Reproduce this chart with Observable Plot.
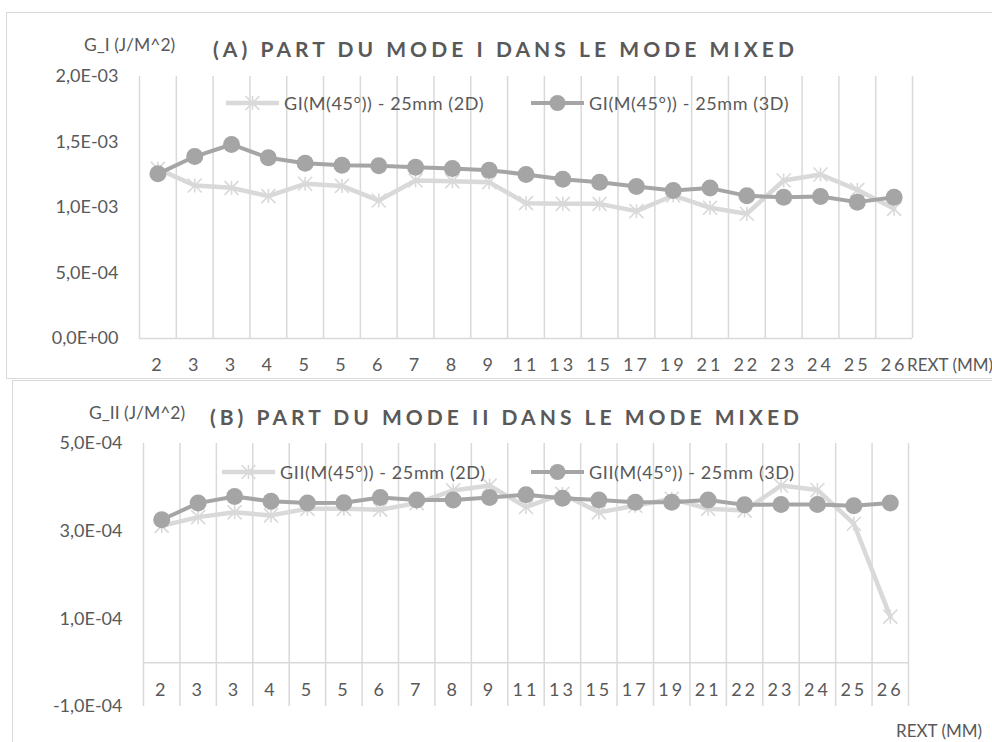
<!DOCTYPE html>
<html>
<head>
<meta charset="utf-8">
<script src="https://cdn.jsdelivr.net/npm/d3@7"></script>
<script src="https://cdn.jsdelivr.net/npm/@observablehq/plot@0.6"></script>
<style>
  html, body { margin: 0; padding: 0; background: #fff; }
  #root { position: relative; width: 992px; height: 742px; overflow: hidden; background: #fff;
          font-family: Lato, "Open Sans", sans-serif; color: #595959; }
  .abs { position: absolute; white-space: nowrap; }
  .box { position: absolute; border: 1.5px solid #d9d9d9; box-sizing: border-box; }
  .title { font-weight: bold; font-size: 21px; }
  .ylab { font-size: 17.5px; }
  .xname { font-size: 17px; }
  .leg { font-size: 18px; display: flex; align-items: center; }
  .leg span { letter-spacing: 0.6px; }
  .leg svg { margin-right: 5px; }
  g[aria-label="x-axis tick label"] text, .xlab text { letter-spacing: 3px; }
</style>
</head>
<body>
<div id="root"></div>
<script>
// ---------- data ----------
const categories = ["2","3","3","4","5","5","6","7","8","9","11","13","15","17","19","21","22","23","24","25","26"];
const gI_2D  = [1.295e-3,1.168e-3,1.150e-3,1.087e-3,1.181e-3,1.165e-3,1.053e-3,1.206e-3,1.201e-3,1.193e-3,1.033e-3,1.028e-3,1.028e-3,0.972e-3,1.092e-3,0.998e-3,0.952e-3,1.206e-3,1.252e-3,1.135e-3,0.990e-3];
const gI_3D  = [1.257e-3,1.389e-3,1.481e-3,1.379e-3,1.338e-3,1.323e-3,1.318e-3,1.308e-3,1.298e-3,1.285e-3,1.252e-3,1.216e-3,1.193e-3,1.160e-3,1.130e-3,1.148e-3,1.089e-3,1.079e-3,1.084e-3,1.041e-3,1.079e-3];
const gII_2D = [3.12e-4,3.32e-4,3.43e-4,3.36e-4,3.51e-4,3.51e-4,3.49e-4,3.64e-4,3.93e-4,4.04e-4,3.55e-4,3.85e-4,3.43e-4,3.58e-4,3.74e-4,3.51e-4,3.47e-4,4.04e-4,3.94e-4,3.17e-4,1.05e-4];
const gII_3D = [3.26e-4,3.64e-4,3.79e-4,3.68e-4,3.64e-4,3.65e-4,3.77e-4,3.71e-4,3.71e-4,3.77e-4,3.83e-4,3.75e-4,3.71e-4,3.66e-4,3.66e-4,3.71e-4,3.60e-4,3.61e-4,3.61e-4,3.58e-4,3.64e-4];
const ticksA = [0, 5e-4, 1e-3, 1.5e-3, 2e-3];
const ticksB = [-1e-4, 1e-4, 3e-4, 5e-4];
const seriesA = ["GI(M(45°)) - 25mm (2D)", "GI(M(45°)) - 25mm (3D)"];
const seriesB = ["GII(M(45°)) - 25mm (2D)", "GII(M(45°)) - 25mm (3D)"];

// ---------- styles ----------
const C2D = "#d9d9d9", C3D = "#a5a5a5", GRID = "#d9d9d9";

function fmtE(d) {
  if (d === 0) return "0,0E+00";
  const e = Math.floor(Math.log10(Math.abs(d)) + 1e-9);
  const m = d / Math.pow(10, e);
  return m.toFixed(1).replace(".", ",") + "E" + (e < 0 ? "-" : "+") + String(Math.abs(e)).padStart(2, "0");
}
const star = {
  draw(ctx, size) {
    const r = Math.sqrt(size / Math.PI);
    ctx.moveTo(0, -r); ctx.lineTo(0, r);
    ctx.moveTo(-r, -r); ctx.lineTo(r, r);
    ctx.moveTo(-r, r); ctx.lineTo(r, -r);
  }
};

const n = categories.length;
const rowsA = categories.map((c, i) => ({xi: i + 0.5, label: c, v2: gI_2D[i], v3: gI_3D[i]}));
const rowsB = categories.map((c, i) => ({xi: i + 0.5, label: c, v2: gII_2D[i], v3: gII_3D[i]}));
const root = document.getElementById("root");

function seriesMarks(rows) {
  return [
    Plot.line(rows, {x: "xi", y: "v2", stroke: C2D, strokeWidth: 4.5}),
    Plot.dot(rows, {x: "xi", y: "v2", symbol: star, r: 7, fill: "none", stroke: C2D, strokeWidth: 1.6}),
    Plot.line(rows, {x: "xi", y: "v3", stroke: C3D, strokeWidth: 4}),
    Plot.dot(rows, {x: "xi", y: "v3", r: 8.5, fill: C3D, stroke: "none"})
  ];
}
const baseStyle = {background: "transparent", overflow: "visible", fontFamily: "Lato, 'Open Sans', sans-serif", fontSize: "18px", color: "#595959"};

// ---------- panel A ----------
const plotA = Plot.plot({
  width: 992, height: 380,
  marginLeft: 139, marginRight: 80, marginTop: 76, marginBottom: 42,
  style: baseStyle,
  x: {type: "linear", domain: [0, n]},
  y: {domain: [0, 2e-3]},
  marks: [
    Plot.ruleX(d3.range(n + 1), {stroke: GRID, strokeWidth: 1.5}),
    Plot.ruleY([0], {stroke: GRID, strokeWidth: 1.5}),
    Plot.axisY({ticks: ticksA, tickFormat: fmtE, tickSize: 0, tickPadding: 21, label: null}),
    Plot.axisX({ticks: rowsA.map(d => d.xi), tickFormat: v => categories[Math.floor(v)], tickSize: 0, tickPadding: 20, label: null}),
    ...seriesMarks(rowsA)
  ]
});
// ---------- panel B ----------
const plotB = Plot.plot({
  width: 992, height: 362,
  marginLeft: 143, marginRight: 84, marginTop: 63, marginBottom: 36,
  style: baseStyle,
  x: {type: "linear", domain: [0, n]},
  y: {domain: [-1e-4, 5e-4]},
  marks: [
    Plot.ruleX(d3.range(n + 1), {stroke: GRID, strokeWidth: 1.5}),
    Plot.ruleY([0], {stroke: GRID, strokeWidth: 1.5}),
    Plot.axisY({ticks: ticksB, tickFormat: fmtE, tickSize: 0, tickPadding: 21, label: null}),
    Plot.axisX({ticks: [], label: null}),
    Plot.text(rowsB, {x: "xi", y: () => 0, text: "label", dy: 28, fill: "#595959", fontSize: 18, className: "xlab"}),
    ...seriesMarks(rowsB)
  ]
});

function place(el, left, top) { el.style.position = "absolute"; el.style.left = left + "px"; el.style.top = top + "px"; root.appendChild(el); }
function box(l, t, w, h) { const d = document.createElement("div"); d.className = "box"; d.style.left = l + "px"; d.style.top = t + "px"; d.style.width = w + "px"; d.style.height = h + "px"; root.appendChild(d); }
function text(cls, str, left, cy, fitWidth) {
  const d = document.createElement("div"); d.className = "abs " + cls; d.textContent = str;
  d.style.left = left + "px"; root.appendChild(d);
  if (fitWidth) {
    const w = d.getBoundingClientRect().width;
    d.style.letterSpacing = ((fitWidth - w) / str.length) + "px";
  }
  const h = d.getBoundingClientRect().height; d.style.top = (cy - h / 2) + "px";
  return d;
}
function swatch(kind) {
  const ns = "http://www.w3.org/2000/svg";
  const s = document.createElementNS(ns, "svg"); s.setAttribute("width", 53); s.setAttribute("height", 20);
  if (kind === 0) {
    s.innerHTML = `<line x1="0" x2="53" y1="10" y2="10" stroke="${C2D}" stroke-width="4.5"/>
      <path d="M26.5,3V17M19.5,3L33.5,17M19.5,17L33.5,3" stroke="${C2D}" stroke-width="1.6" fill="none"/>`;
  } else {
    s.innerHTML = `<line x1="0" x2="53" y1="10" y2="10" stroke="${C3D}" stroke-width="4"/>
      <circle cx="26.5" cy="10" r="8" fill="${C3D}"/>`;
  }
  return s;
}
function legendItem(kind, label, left, cy) {
  const d = document.createElement("div"); d.className = "abs leg";
  d.appendChild(swatch(kind)); const sp = document.createElement("span"); sp.textContent = label; d.appendChild(sp);
  d.style.left = left + "px"; root.appendChild(d);
  const h = d.getBoundingClientRect().height; d.style.top = (cy - h / 2) + "px";
}

box(6, 12, 1000, 367);
box(12, 380, 1000, 400);
place(plotA, 0, 0);
place(plotB, 0, 380);

text("title", "(A) PART DU MODE I DANS LE MODE MIXED", 213, 48, 585);
text("ylab", "G_I (J/M^2)", 84, 44);
legendItem(0, seriesA[0], 226, 103);
legendItem(1, seriesA[1], 531, 103);
text("xname", "REXT (MM)", 907, 364);

text("title", "(B) PART DU MODE II DANS LE MODE MIXED", 210, 416, 593);
text("ylab", "G_II (J/M^2)", 89, 412);
legendItem(0, seriesB[0], 222, 472);
legendItem(1, seriesB[1], 531, 472);
text("xname", "REXT (MM)", 896, 730);
</script>
</body>
</html>
